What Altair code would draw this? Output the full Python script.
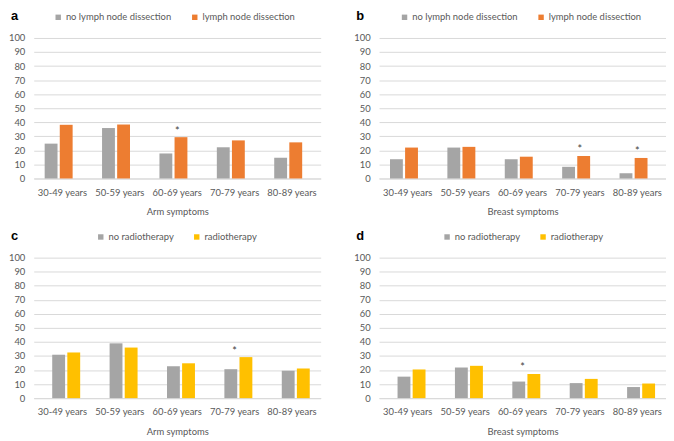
import altair as alt
import pandas as pd

ages = ["30-49 years", "50-59 years", "60-69 years", "70-79 years", "80-89 years"]

arm_no_lnd = [24.8, 35.9, 17.8, 22.2, 14.8]
arm_lnd = [38.2, 38.4, 29.4, 27.1, 25.7]
breast_no_lnd = [13.7, 22.0, 13.7, 8.3, 3.7]
breast_lnd = [22.0, 22.5, 15.5, 16.0, 14.6]
arm_no_rt = [30.9, 39.0, 22.7, 20.6, 19.5]
arm_rt = [32.5, 36.0, 24.8, 29.2, 21.1]
breast_no_rt = [15.3, 21.8, 11.8, 10.7, 7.9]
breast_rt = [20.4, 23.0, 17.2, 13.7, 10.4]

sig_a = ["60-69 years"]
sig_b = ["70-79 years", "80-89 years"]
sig_c = ["70-79 years"]
sig_d = ["60-69 years"]

lnd_groups = ["no lymph node dissection", "lymph node dissection"]
rt_groups = ["no radiotherapy", "radiotherapy"]
lnd_colors = ["#A5A5A5", "#ED7D31"]
rt_colors = ["#A5A5A5", "#FFC000"]

TXT = "#595959"
GRID = "#D9D9D9"
FONT = "Lato"
W, H = 290, 142


def panel(letter, no_vals, yes_vals, groups, colors, sig, xtitle, legend_x):
    df = pd.DataFrame({
        "age": ages * 2,
        "group": [groups[0]] * len(ages) + [groups[1]] * len(ages),
        "value": no_vals + yes_vals,
    })
    sig_df = pd.DataFrame({
        "age": sig,
        "value": [max(no_vals[ages.index(a)], yes_vals[ages.index(a)]) + 6 for a in sig],
    })
    x = alt.X(
        "age:N", sort=ages, title=xtitle,
        scale=alt.Scale(paddingInner=0.5, paddingOuter=0.25),
        axis=alt.Axis(labelAngle=0, ticks=False, grid=False, domainColor=GRID, labelPadding=9,
                      titlePadding=10, labelColor=TXT, titleColor=TXT, labelFontSize=9.5,
                      titleFontSize=9.5, titleFontWeight="normal", labelFont=FONT, titleFont=FONT),
    )
    y = alt.Y(
        "value:Q", scale=alt.Scale(domain=[0, 100]),
        axis=alt.Axis(values=list(range(0, 101, 10)), domain=False, ticks=False, grid=True,
                      gridColor=GRID, title=None, labelPadding=9, labelColor=TXT,
                      labelFontSize=9.5, labelFont=FONT, labelOverlap=False),
    )
    bars = alt.Chart(df).mark_bar(width=13).encode(
        x=x, y=y,
        xOffset=alt.XOffset("group:N", sort=groups,
                            scale=alt.Scale(paddingInner=0.2, paddingOuter=0)),
        color=alt.Color(
            "group:N", scale=alt.Scale(domain=groups, range=colors),
            legend=alt.Legend(orient="none", legendX=legend_x, legendY=-26, direction="horizontal",
                              title=None, symbolType="square", symbolSize=30,
                              symbolStrokeWidth=0, labelColor=TXT, labelFontSize=9.5,
                              labelFont=FONT, columnPadding=18, labelOffset=3),
        ),
    )
    stars = alt.Chart(sig_df).mark_text(text="*", fontSize=11, baseline="middle", dy=3,
                                        color="#404040").encode(x=x, y=y)
    let = alt.Chart(pd.DataFrame({"k": [0]})).mark_text(
        text=letter, fontSize=13, fontWeight="bold", font="Liberation Sans",
        align="left", baseline="alphabetic", color="#000000").encode(
        x=alt.value(-23), y=alt.value(-18))
    return alt.layer(bars, stars, let).properties(width=W, height=H)


a = panel("a", arm_no_lnd, arm_lnd, lnd_groups, lnd_colors, sig_a, "Arm symptoms", 20)
b = panel("b", breast_no_lnd, breast_lnd, lnd_groups, lnd_colors, sig_b, "Breast symptoms", 21)
c = panel("c", arm_no_rt, arm_rt, rt_groups, rt_colors, sig_c, "Arm symptoms", 63)
d = panel("d", breast_no_rt, breast_rt, rt_groups, rt_colors, sig_d, "Breast symptoms", 64)

top = alt.hconcat(a, b, spacing=33).resolve_scale(color="independent").resolve_legend(color="independent")
bottom = alt.hconcat(c, d, spacing=33).resolve_scale(color="independent").resolve_legend(color="independent")

chart = alt.vconcat(top, bottom, spacing=14).resolve_scale(color="independent").resolve_legend(
    color="independent").properties(padding=0).configure(
    font=FONT, view=alt.ViewConfig(stroke=None))

chart.save("out.html", embed_options={"renderer": "svg", "actions": False})
